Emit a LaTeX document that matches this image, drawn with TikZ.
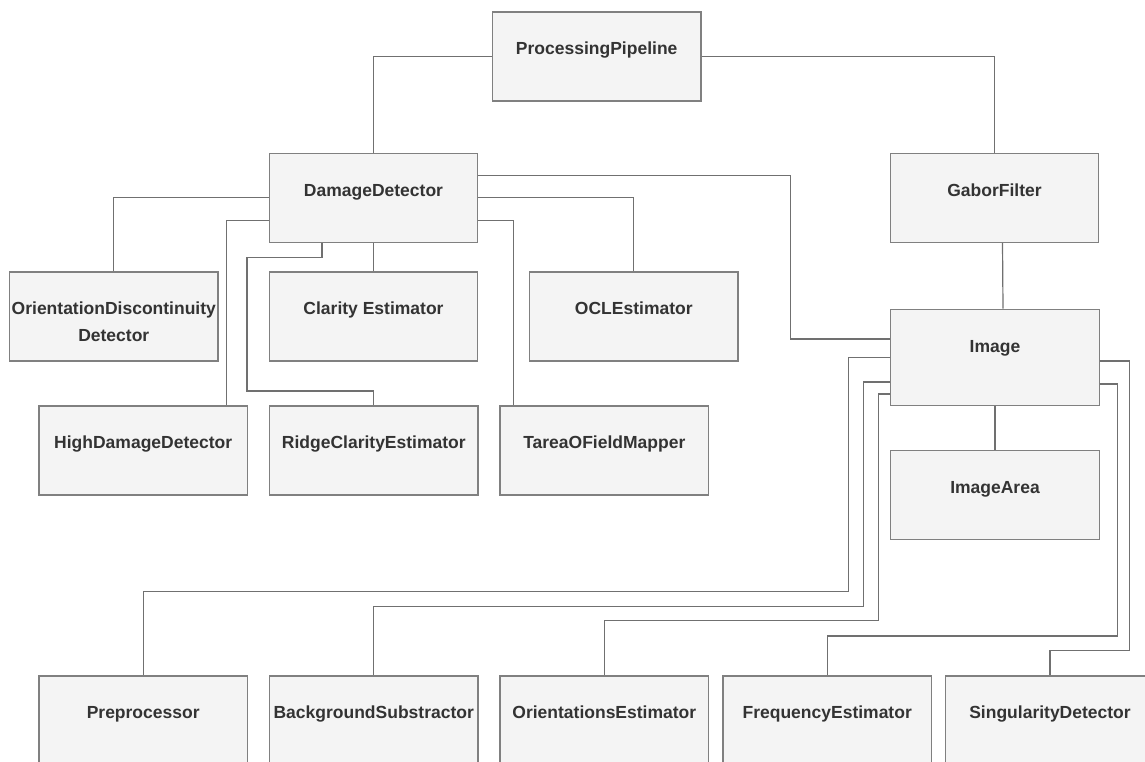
\documentclass[tikz,border=0pt]{standalone}
\usepackage{fontspec}
\setmainfont{Liberation Sans}
\definecolor{boxfill}{HTML}{F4F4F4}
\definecolor{boxline}{HTML}{808080}
\definecolor{wire}{HTML}{707070}
\definecolor{ink}{HTML}{333333}
\tikzset{
  cls/.style={rectangle, draw=boxline, fill=boxfill, line width=1.2pt, minimum width=208.5pt, minimum height=89pt, inner sep=0pt},
  clsname/.style={anchor=base, yshift=-43.5pt, inner sep=0pt, text=ink, align=center, font=\bfseries\fontsize{17.5}{26.6}\selectfont},
  wire/.style={draw=wire, line width=1.2pt},
}
\begin{document}
\begin{tikzpicture}[x=1pt, y=-1pt]
\useasboundingbox (0,0) rectangle (1145,762);
\clip (0,0) rectangle (1145,762);
\node[cls, label={[clsname]north:ProcessingPipeline}] (pp) at (596.7,56.5){};
\node[cls, label={[clsname]north:DamageDetector}] (dd) at (373.5,197.7){};
\node[cls, label={[clsname]north:GaborFilter}] (gabor) at (994.5,197.7){};
\node[cls, label={[clsname, yshift=-26.6pt]north:OrientationDiscontinuity\\Detector}] (odd) at (113.8,316.5){};
\node[cls, label={[clsname]north:Clarity Estimator}] (clarity) at (373.5,316.5){};
\node[cls, label={[clsname]north:OCLEstimator}] (ocl) at (633.8,316.5){};
\node[cls, minimum height=96.4pt, label={[clsname]north:Image}] (img) at (995,357.5){};
\node[cls, label={[clsname]north:HighDamageDetector}] (hdd) at (143.2,450.5){};
\node[cls, label={[clsname]north:RidgeClarityEstimator}] (ridge) at (373.8,450.5){};
\node[cls, label={[clsname]north:TareaOFieldMapper}] (tarea) at (604.3,450.5){};
\node[cls, label={[clsname]north:ImageArea}] (imgarea) at (995,495){};
\node[cls, label={[clsname]north:Preprocessor}] (pre) at (143.2,720.5){};
\node[cls, label={[clsname]north:BackgroundSubstractor}] (bgs) at (373.7,720.5){};
\node[cls, label={[clsname]north:OrientationsEstimator}] (ori) at (604.3,720.5){};
\node[cls, label={[clsname]north:FrequencyEstimator}] (freq) at (827.2,720.5){};
\node[cls, label={[clsname]north:SingularityDetector}] (sing) at (1050,720.5){};

% pipeline
\draw[wire](pp.west) -| (dd.north);
\draw[wire](pp.east) -| (gabor.north);
\draw[wire]([xshift=8pt]gabor.south) -- ([xshift=8pt]img.north);

% damage detector
\draw[wire](dd.west) -| (odd.north);
\draw[wire]([yshift=-22.5pt]dd.west) -| ([xshift=83.5pt]hdd.north);
\draw[wire]([xshift=-51.5pt]dd.south) -- ++(0,14.7) -- ++(-75,0) |- ([yshift=14.5pt]ridge.north) -- (ridge.north);
\draw[wire](dd.south) -- (clarity.north);
\draw[wire]([yshift=22.5pt]dd.east) -- ++(312.3,0) |- ([yshift=18.5pt]img.west);
\draw[wire](dd.east) -| (ocl.north);
\draw[wire]([yshift=-22.5pt]dd.east) -| ([xshift=-91pt]tarea.north);

% image
\draw[wire](img.south) -- (imgarea.north);
\draw[wire](img.west) -- ++(-41.4,0) |- ([yshift=84.3pt]pre.north) -- (pre.north);
\draw[wire]([yshift=-24.5pt]img.west) -- ++(-26.4,0) |- ([yshift=69.3pt]bgs.north) -- (bgs.north);
\draw[wire]([yshift=-36.5pt]img.west) -- ++(-11.4,0) |- ([yshift=55pt]ori.north) -- (ori.north);
\draw[wire]([yshift=-26.5pt]img.east) -- ++(18,0) |- ([yshift=39.5pt]freq.north) -- (freq.north);
\draw[wire]([yshift=-3.5pt]img.east) -- ++(29.7,0) |- ([yshift=25pt]sing.north) -- (sing.north);

\end{tikzpicture}
\end{document}
